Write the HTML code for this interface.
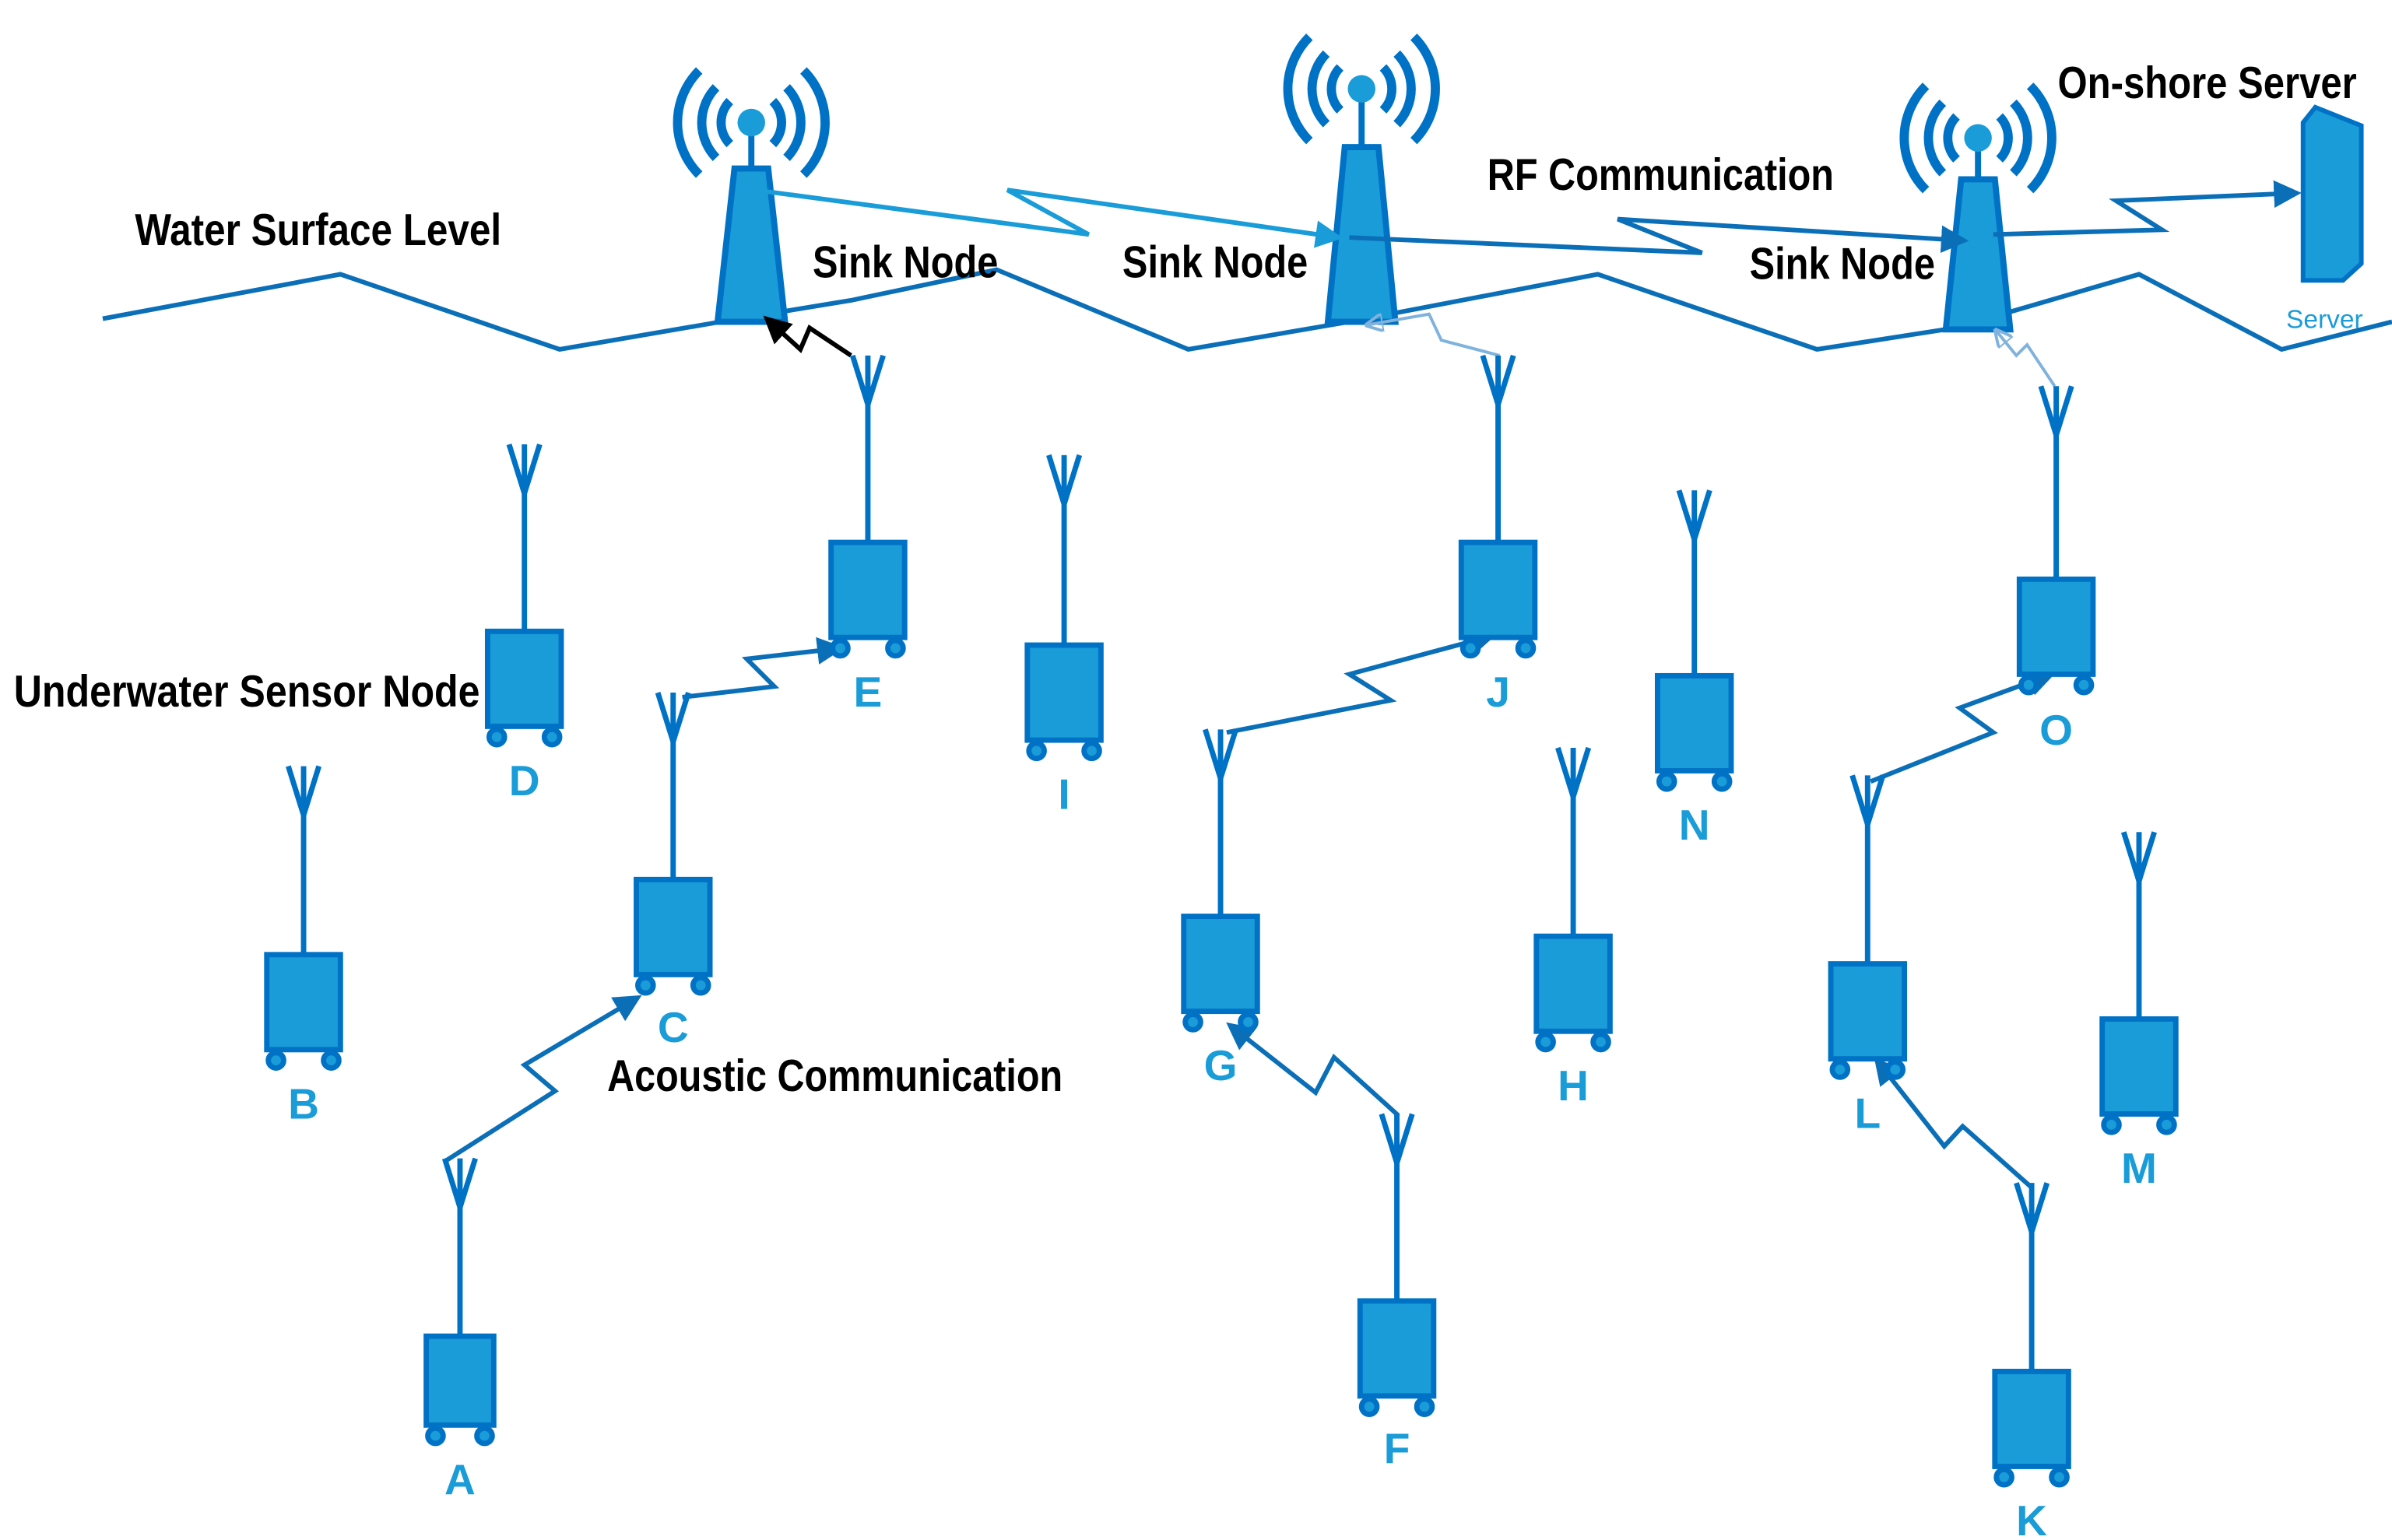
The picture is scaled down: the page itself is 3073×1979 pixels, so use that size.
<!DOCTYPE html>
<html><head><meta charset="utf-8"><style>html,body{margin:0;padding:0;background:#fff}svg{display:block}</style></head>
<body>
<svg width="3073" height="1979" viewBox="0 0 1560 1005" preserveAspectRatio="none" xmlns="http://www.w3.org/2000/svg">
<defs>
<marker id="ab" markerWidth="6" markerHeight="6" refX="5" refY="3" orient="auto" markerUnits="strokeWidth"><path d="M0,0L6,3L0,6z" fill="#0b6fb8"/></marker>
<marker id="al" markerWidth="6" markerHeight="6" refX="5" refY="3" orient="auto" markerUnits="strokeWidth"><path d="M0,0L6,3L0,6z" fill="#1a9cd8"/></marker>
<marker id="ak" markerWidth="6" markerHeight="6" refX="5" refY="3" orient="auto" markerUnits="strokeWidth"><path d="M0,0L6,3L0,6z" fill="#000"/></marker>
<marker id="ap" markerWidth="6" markerHeight="6" refX="5" refY="3" orient="auto" markerUnits="strokeWidth"><path d="M0,0L6,3L0,6z" fill="none" stroke="#7fb3dd" stroke-width="1"/></marker>
</defs>
<g fill="none" stroke="#0b6fb8" stroke-width="3">
<polyline points="67,208 222,179 365,228 470,210 555,196 650,176 775,228 880,210 1042,179 1185,228 1275,214 1395,179 1488,228 1560,210"/>
</g>
<!-- towers -->
<g stroke="#0072c6" stroke-width="4" fill="#1a9cd8">
<g transform="translate(490,80)">
<path d="M-11,30 L11,30 L22,130 L-22,130 Z"/><line x1="0" y1="0" x2="0" y2="30"/><circle r="9" stroke="none"/>
<g fill="none" stroke-width="6"><path d="M-14,-14 A20,20 0 0 0 -14,14"/><path d="M14,-14 A20,20 0 0 1 14,14"/><path d="M-23,-23 A33,33 0 0 0 -23,23"/><path d="M23,-23 A33,33 0 0 1 23,23"/><path d="M-34,-34 A48,48 0 0 0 -34,34"/><path d="M34,-34 A48,48 0 0 1 34,34"/></g>
</g>
<g transform="translate(888,58)">
<path d="M-11,38 L11,38 L22,152 L-22,152 Z"/><line x1="0" y1="0" x2="0" y2="38"/><circle r="9" stroke="none"/>
<g fill="none" stroke-width="6"><path d="M-14,-14 A20,20 0 0 0 -14,14"/><path d="M14,-14 A20,20 0 0 1 14,14"/><path d="M-23,-23 A33,33 0 0 0 -23,23"/><path d="M23,-23 A33,33 0 0 1 23,23"/><path d="M-34,-34 A48,48 0 0 0 -34,34"/><path d="M34,-34 A48,48 0 0 1 34,34"/></g>
</g>
<g transform="translate(1290,90)">
<path d="M-11,27 L11,27 L21,125 L-21,125 Z"/><line x1="0" y1="0" x2="0" y2="27"/><circle r="9" stroke="none"/>
<g fill="none" stroke-width="6"><path d="M-14,-14 A20,20 0 0 0 -14,14"/><path d="M14,-14 A20,20 0 0 1 14,14"/><path d="M-23,-23 A33,33 0 0 0 -23,23"/><path d="M23,-23 A33,33 0 0 1 23,23"/><path d="M-34,-34 A48,48 0 0 0 -34,34"/><path d="M34,-34 A48,48 0 0 1 34,34"/></g>
</g>
<!-- server -->
<path d="M1510,70 L1540,82 L1540,172 L1528,183 L1502,183 L1502,80 Z" stroke-width="3"/>
</g>
<!-- RF links -->
<g fill="none" stroke-width="3">
<polyline stroke="#1a9cd8" marker-end="url(#al)" points="500,125 710,153 657,124 873,155"/>
<polyline stroke="#0b6fb8" marker-end="url(#ab)" points="880,155 1110,165 1055,143 1281,157"/>
<polyline stroke="#0b6fb8" marker-end="url(#ab)" points="1300,153 1410,150 1380,131 1498,126"/>
</g>
<!-- acoustic links -->
<g fill="none" stroke-width="3">
<polyline stroke="#0b6fb8" marker-end="url(#ab)" points="290,758 362,712 342,695 416,651"/>
<polyline stroke="#0b6fb8" marker-end="url(#ab)" points="445,455 505,448 487,430 548,423"/>
<polyline stroke="#000" marker-end="url(#ak)" points="555,232 528,214 522,228 500,208"/>
<polyline stroke="#0b6fb8" marker-end="url(#ab)" points="800,478 907,457 880,440 973,415"/>
<polyline stroke="#0b6fb8" marker-end="url(#ab)" points="912,728 870,690 858,713 802,669"/>
<polyline stroke="#7fb3dd" stroke-width="2" marker-end="url(#ap)" points="978,232 940,222 932,205 892,212"/>
<polyline stroke="#0b6fb8" marker-end="url(#ab)" points="1220,510 1300,478 1278,462 1338,440"/>
<polyline stroke="#0b6fb8" marker-end="url(#ab)" points="1325,775 1280,735 1268,748 1224,692"/>
<polyline stroke="#7fb3dd" stroke-width="2" marker-end="url(#ap)" points="1340,252 1322,225 1315,232 1302,216"/>
</g>
<!-- nodes -->
<g stroke="#0072c6" stroke-width="3.5" fill="#1a9cd8">
<!-- D --><g transform="translate(342,412)"><line x1="0" y1="0" x2="0" y2="-90" fill="none"/><path d="M-10,-122 L0,-90 L10,-122 M0,-90 L0,-122" fill="none"/><rect x="-24" y="0" width="48" height="62"/><circle cx="-18" cy="69" r="5"/><circle cx="18" cy="69" r="5"/></g>
<!-- E --><g transform="translate(566,354)"><line x1="0" y1="0" x2="0" y2="-90" fill="none"/><path d="M-10,-122 L0,-90 L10,-122 M0,-90 L0,-122" fill="none"/><rect x="-24" y="0" width="48" height="62"/><circle cx="-18" cy="69" r="5"/><circle cx="18" cy="69" r="5"/></g>
<!-- I --><g transform="translate(694,421)"><line x1="0" y1="0" x2="0" y2="-92" fill="none"/><path d="M-10,-124 L0,-92 L10,-124 M0,-92 L0,-124" fill="none"/><rect x="-24" y="0" width="48" height="62"/><circle cx="-18" cy="69" r="5"/><circle cx="18" cy="69" r="5"/></g>
<!-- J --><g transform="translate(977,354)"><line x1="0" y1="0" x2="0" y2="-90" fill="none"/><path d="M-10,-122 L0,-90 L10,-122 M0,-90 L0,-122" fill="none"/><rect x="-24" y="0" width="48" height="62"/><circle cx="-18" cy="69" r="5"/><circle cx="18" cy="69" r="5"/></g>
<!-- N --><g transform="translate(1105,441)"><line x1="0" y1="0" x2="0" y2="-89" fill="none"/><path d="M-10,-121 L0,-89 L10,-121 M0,-89 L0,-121" fill="none"/><rect x="-24" y="0" width="48" height="62"/><circle cx="-18" cy="69" r="5"/><circle cx="18" cy="69" r="5"/></g>
<!-- O --><g transform="translate(1341,378)"><line x1="0" y1="0" x2="0" y2="-94" fill="none"/><path d="M-10,-126 L0,-94 L10,-126 M0,-94 L0,-126" fill="none"/><rect x="-24" y="0" width="48" height="62"/><circle cx="-18" cy="69" r="5"/><circle cx="18" cy="69" r="5"/></g>
<!-- B --><g transform="translate(198,623)"><line x1="0" y1="0" x2="0" y2="-91" fill="none"/><path d="M-10,-123 L0,-91 L10,-123 M0,-91 L0,-123" fill="none"/><rect x="-24" y="0" width="48" height="62"/><circle cx="-18" cy="69" r="5"/><circle cx="18" cy="69" r="5"/></g>
<!-- C --><g transform="translate(439,574)"><line x1="0" y1="0" x2="0" y2="-90" fill="none"/><path d="M-10,-122 L0,-90 L10,-122 M0,-90 L0,-122" fill="none"/><rect x="-24" y="0" width="48" height="62"/><circle cx="-18" cy="69" r="5"/><circle cx="18" cy="69" r="5"/></g>
<!-- G --><g transform="translate(796,598)"><line x1="0" y1="0" x2="0" y2="-90" fill="none"/><path d="M-10,-122 L0,-90 L10,-122 M0,-90 L0,-122" fill="none"/><rect x="-24" y="0" width="48" height="62"/><circle cx="-18" cy="69" r="5"/><circle cx="18" cy="69" r="5"/></g>
<!-- H --><g transform="translate(1026,611)"><line x1="0" y1="0" x2="0" y2="-91" fill="none"/><path d="M-10,-123 L0,-91 L10,-123 M0,-91 L0,-123" fill="none"/><rect x="-24" y="0" width="48" height="62"/><circle cx="-18" cy="69" r="5"/><circle cx="18" cy="69" r="5"/></g>
<!-- L --><g transform="translate(1218,629)"><line x1="0" y1="0" x2="0" y2="-91" fill="none"/><path d="M-10,-123 L0,-91 L10,-123 M0,-91 L0,-123" fill="none"/><rect x="-24" y="0" width="48" height="62"/><circle cx="-18" cy="69" r="5"/><circle cx="18" cy="69" r="5"/></g>
<!-- M --><g transform="translate(1395,665)"><line x1="0" y1="0" x2="0" y2="-90" fill="none"/><path d="M-10,-122 L0,-90 L10,-122 M0,-90 L0,-122" fill="none"/><rect x="-24" y="0" width="48" height="62"/><circle cx="-18" cy="69" r="5"/><circle cx="18" cy="69" r="5"/></g>
<!-- A --><g transform="translate(300,872)"><line x1="0" y1="0" x2="0" y2="-84" fill="none"/><path d="M-10,-116 L0,-84 L10,-116 M0,-84 L0,-116" fill="none"/><rect x="-22" y="0" width="44" height="58"/><circle cx="-16" cy="65" r="5"/><circle cx="16" cy="65" r="5"/></g>
<!-- F --><g transform="translate(911,849)"><line x1="0" y1="0" x2="0" y2="-90" fill="none"/><path d="M-10,-122 L0,-90 L10,-122 M0,-90 L0,-122" fill="none"/><rect x="-24" y="0" width="48" height="62"/><circle cx="-18" cy="69" r="5"/><circle cx="18" cy="69" r="5"/></g>
<!-- K --><g transform="translate(1325,895)"><line x1="0" y1="0" x2="0" y2="-91" fill="none"/><path d="M-10,-123 L0,-91 L10,-123 M0,-91 L0,-123" fill="none"/><rect x="-24" y="0" width="48" height="62"/><circle cx="-18" cy="69" r="5"/><circle cx="18" cy="69" r="5"/></g>
</g>
<!-- node labels -->
<g font-family="'Liberation Sans Narrow','Liberation Sans',sans-serif" font-weight="bold" font-size="28" fill="#1a9cd8" text-anchor="middle">
<text x="342" y="519">D</text><text x="566" y="461">E</text><text x="694" y="528">I</text><text x="977" y="461">J</text><text x="1105" y="548">N</text><text x="1341" y="486">O</text>
<text x="198" y="730">B</text><text x="439" y="680">C</text><text x="796" y="705">G</text><text x="1026" y="718">H</text><text x="1218" y="736">L</text><text x="1395" y="772">M</text>
<text x="300" y="975">A</text><text x="911" y="955">F</text><text x="1325" y="1002">K</text>
</g>
<text x="1516" y="214" font-family="'Liberation Sans',sans-serif" font-size="17" fill="#1a9cd8" text-anchor="middle">Server</text>
<!-- main labels -->
<g font-family="'Liberation Sans Narrow','Liberation Sans',sans-serif" font-weight="bold" font-size="29" fill="#000">
<text x="88" y="160" textLength="239" lengthAdjust="spacingAndGlyphs">Water Surface Level</text>
<text x="530" y="181" textLength="121" lengthAdjust="spacingAndGlyphs">Sink Node</text>
<text x="732" y="181" textLength="121" lengthAdjust="spacingAndGlyphs">Sink Node</text>
<text x="1141" y="182" textLength="121" lengthAdjust="spacingAndGlyphs">Sink Node</text>
<text x="970" y="124" textLength="226" lengthAdjust="spacingAndGlyphs">RF Communication</text>
<text x="1342" y="64" textLength="195" lengthAdjust="spacingAndGlyphs">On-shore Server</text>
<text x="9" y="461" textLength="304" lengthAdjust="spacingAndGlyphs">Underwater Sensor Node</text>
<text x="396" y="712" textLength="297" lengthAdjust="spacingAndGlyphs">Acoustic Communication</text>
</g>
</svg>
</body></html>
